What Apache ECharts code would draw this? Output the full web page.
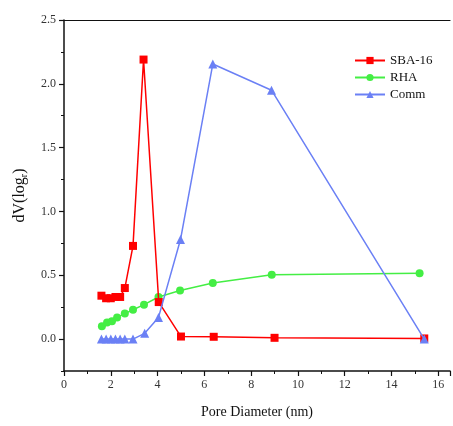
<!DOCTYPE html>
<html>
<head>
<meta charset="utf-8">
<script src="https://cdn.jsdelivr.net/npm/echarts@6/dist/echarts.min.js"></script>
<style>
  html, body { margin: 0; padding: 0; background: #fff; }
  #chart { width: 453px; height: 426px; }
</style>
</head>
<body>
<div id="chart"></div>
<script>
  // 数据
  const sbaX = [1.6, 1.8, 2.0, 2.2, 2.4, 2.6, 2.95, 3.4, 4.05, 5.0, 6.4, 9.0, 15.4];
  const sbaY = [0.34, 0.32, 0.32, 0.33, 0.33, 0.40, 0.73, 2.19, 0.29, 0.02, 0.018, 0.01, 0.005];
  const rhaX = [1.62, 1.84, 2.05, 2.27, 2.6, 2.95, 3.42, 4.04, 4.96, 6.36, 8.88, 15.2];
  const rhaY = [0.10, 0.13, 0.14, 0.17, 0.20, 0.23, 0.27, 0.33, 0.38, 0.44, 0.505, 0.515];
  const commX = [1.6, 1.8, 2.0, 2.2, 2.4, 2.6, 2.95, 3.45, 4.04, 4.98, 6.36, 8.87, 15.4];
  const commY = [0, 0, 0, 0, 0, 0, 0, 0.045, 0.17, 0.78, 2.155, 1.95, 0];
  const yMajor = [0, 0.5, 1.0, 1.5, 2.0, 2.5];
  const yMinor = [-0.25, 0.25, 0.75, 1.25, 1.75, 2.25];

  const pairs = (xs, ys) => xs.map((x, i) => [x, ys[i]]);
  const font = 'Liberation Serif, Times New Roman, serif';

  const chart = echarts.init(document.getElementById('chart'));
  const option = {
    animation: false,
    grid: { left: 64, right: 1, top: 20, bottom: 55 },
    legend: {
      orient: 'vertical',
      left: 349,
      top: 49,
      itemGap: 4,
      itemWidth: 30,
      itemHeight: 9,
      textStyle: { fontFamily: font, fontSize: 13, color: '#111' },
      data: ['SBA-16', 'RHA', 'Comm'],
    },
    xAxis: [
      {
        type: 'value',
        min: 0,
        max: 16.5,
        interval: 2,
        name: 'Pore Diameter (nm)',
        nameLocation: 'middle',
        nameGap: 34,
        nameTextStyle: { fontFamily: font, fontSize: 14, color: '#111' },
        axisLine: { onZero: false, lineStyle: { color: '#111', width: 1.5 } },
        axisTick: { length: 5, lineStyle: { color: '#111', width: 1.2 } },
        minorTick: { show: true, splitNumber: 2, length: 3, lineStyle: { color: '#111' } },
        axisLabel: {
          fontFamily: font, fontSize: 12, color: '#333', margin: 8,
          formatter: (v) => (v <= 16 ? v : ''),
        },
        splitLine: { show: false },
      },
      {
        type: 'value',
        position: 'top',
        min: 0,
        max: 16.5,
        axisLine: { show: true, onZero: false, lineStyle: { color: '#111', width: 1.2 } },
        axisTick: { show: false },
        axisLabel: { show: false },
        splitLine: { show: false },
      },
    ],
    yAxis: [
      {
        type: 'value',
        min: -0.25,
        max: 2.5,
        name: '{a|dV(log}{b|r}{a|)}',
        nameLocation: 'middle',
        nameGap: 35,
        nameTextStyle: {
          rich: {
            a: { fontFamily: font, fontSize: 16, color: '#111' },
            b: { fontFamily: font, fontSize: 10, color: '#111', verticalAlign: 'bottom', padding: [8, 0, 0, 0] },
          },
        },
        axisLine: { onZero: false, lineStyle: { color: '#111', width: 1.5 } },
        axisTick: { length: 5, customValues: yMajor, lineStyle: { color: '#111', width: 1.2 } },
        axisLabel: {
          customValues: yMajor,
          fontFamily: font, fontSize: 12, color: '#333', margin: 8,
          formatter: (v) => v.toFixed(1),
        },
        splitLine: { show: false },
      },
      {
        type: 'value',
        position: 'left',
        min: -0.25,
        max: 2.5,
        axisLine: { show: false },
        axisTick: { show: true, length: 3, customValues: yMinor, lineStyle: { color: '#111' } },
        axisLabel: { show: false },
        splitLine: { show: false },
      },
    ],
    series: [
      {
        name: 'SBA-16',
        type: 'line',
        data: pairs(sbaX, sbaY),
        symbol: 'rect',
        symbolSize: 8,
        color: '#ff0000',
        lineStyle: { width: 1.5, color: '#ff0000' },
        itemStyle: { color: '#ff0000' },
        z: 3,
      },
      {
        name: 'RHA',
        type: 'line',
        data: pairs(rhaX, rhaY),
        symbol: 'circle',
        symbolSize: 8,
        color: '#44ee44',
        lineStyle: { width: 1.5, color: '#44ee44' },
        itemStyle: { color: '#44ee44' },
        z: 2,
      },
      {
        name: 'Comm',
        type: 'line',
        data: pairs(commX, commY),
        symbol: 'triangle',
        symbolSize: 9,
        color: '#6b80f5',
        lineStyle: { width: 1.5, color: '#6b80f5' },
        itemStyle: { color: '#6b80f5' },
        z: 4,
      },
    ],
  };
  chart.setOption(option);
</script>
</body>
</html>
